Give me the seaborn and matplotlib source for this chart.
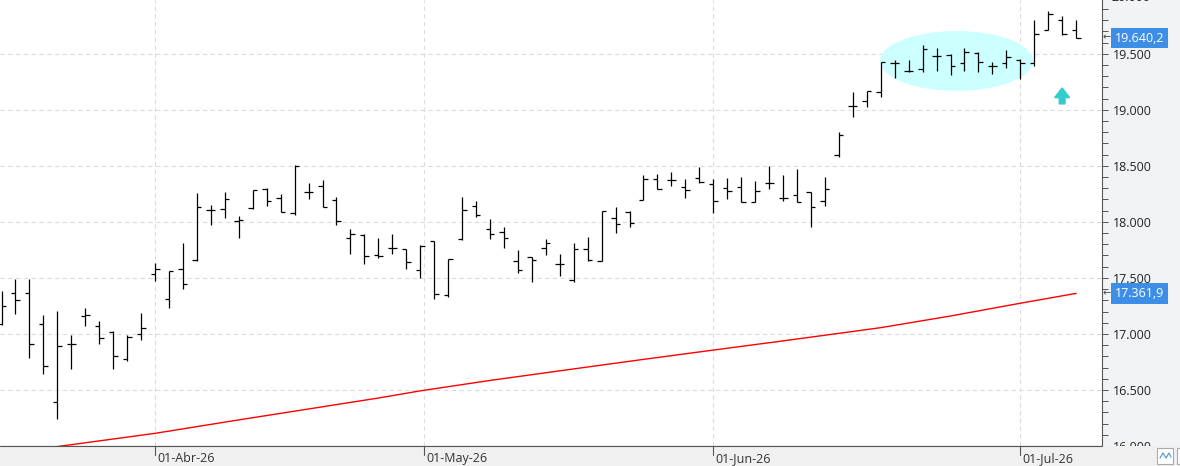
import numpy as np
import seaborn as sns
import matplotlib.pyplot as plt
import matplotlib.transforms as mtransforms
from matplotlib.patches import Ellipse, Rectangle
from matplotlib.lines import Line2D
from matplotlib.ticker import MultipleLocator, FuncFormatter

sns.set_style("white")
plt.rcParams['font.family'] = ['Open Sans', 'DejaVu Sans']

# OHLC diario (una barra por sesion)
opens = [17091, 17367, 17367, 17091, 16395, 16913, 17162, 17073, 17020, 16779,
         17002, 17537, 17314, 17581, 17662, 18107, 18116, 18009, 18125, 18295,
         18214, 18081, 18268, 18321, 18197, 17858, 17884, 17706, 17769, 17760,
         17572, 17831, 17350, 17849, 18143, 17938, 17911, 17653, 17688, 17769,
         17626, 17483, 17760, 17653, 18036, 18090, 18197, 18384, 18375, 18312,
         18393, 18339, 18304, 18312, 18179, 18348, 18214, 18241, 18268, 18188,
         18598, 19035, 19079, 19160, 19418, 19347, 19365, 19481, 19490, 19418,
         19507, 19391, 19418, 19445, 19418, 19712, 19802, 19712]
highs = [17385, 17492, 17492, 17171, 17207, 16993, 17234, 17118, 17028, 16993,
         17189, 17635, 17563, 17813, 18259, 18152, 18268, 18054, 18286, 18304,
         18250, 18509, 18348, 18375, 18223, 17938, 17893, 17858, 17893, 17760,
         17795, 17831, 17670, 18223, 18188, 18027, 17956, 17751, 17688, 17849,
         17715, 17813, 17867, 18098, 18134, 18098, 18419, 18428, 18446, 18384,
         18491, 18384, 18393, 18402, 18366, 18500, 18419, 18473, 18268, 18402,
         18803, 19160, 19169, 19427, 19445, 19445, 19579, 19552, 19498, 19552,
         19516, 19427, 19534, 19454, 19802, 19882, 19837, 19802]
lows = [17082, 17180, 16788, 16645, 16244, 16690, 17073, 16913, 16690, 16761,
        16948, 17474, 17234, 17403, 17653, 17974, 18036, 17858, 18116, 18143,
        18090, 18063, 18205, 18134, 17974, 17715, 17626, 17679, 17715, 17581,
        17501, 17314, 17332, 17840, 18045, 17849, 17769, 17546, 17465, 17706,
        17519, 17465, 17653, 17653, 17902, 17956, 18197, 18295, 18321, 18214,
        18348, 18081, 18205, 18179, 18179, 18295, 18188, 18179, 17956, 18143,
        18580, 18937, 19026, 19115, 19284, 19338, 19338, 19347, 19311, 19347,
        19338, 19320, 19374, 19276, 19391, 19712, 19668, 19640.2]
closes = [17251, 17305, 16913, 16716, 16895, 16913, 17171, 16966, 16805, 16975,
          17055, 17581, 17563, 17448, 18134, 18107, 18205, 18018, 18286, 18188,
          18090, 18500, 18268, 18134, 18009, 17893, 17697, 17697, 17769, 17644,
          17786, 17358, 17670, 18107, 18063, 17893, 17858, 17572, 17662, 17813,
          17626, 17760, 17662, 18098, 17983, 17991, 18384, 18295, 18375, 18286,
          18357, 18188, 18277, 18179, 18277, 18348, 18214, 18179, 18134, 18295,
          18776, 19035, 19169, 19427, 19418, 19347, 19543, 19481, 19391, 19516,
          19427, 19391, 19472, 19418, 19677, 19855, 19677, 19640.2]

sma_idx = [0, 4, 11, 17, 27, 30, 35, 41, 46, 51, 56, 63, 68, 73, 77]
sma_val = [15930, 15995, 16113, 16233, 16428, 16492, 16585, 16688, 16773,
           16856, 16938, 17056, 17160, 17274, 17361.9]

month_pos = [11.0, 30.3, 51.0, 73.0]
month_labels = ["01-Abr-26", "01-May-26", "01-Jun-26", "01-Jul-26"]

W, H = 1180, 466
fig = plt.figure(figsize=(W / 100, H / 100), dpi=100, facecolor='#f2f3f5')
ax = fig.add_axes([0, 20 / H, 1101.5 / W, 446 / H])
ax.set_facecolor('white')

x = np.arange(len(opens))
bar_kw = dict(color='black', lw=0.9, zorder=3)
ax.vlines(x, lows, highs, **bar_kw)
ax.hlines(opens, x - 0.32, x, **bar_kw)
ax.hlines(closes, x, x + 0.32, **bar_kw)

sns.lineplot(x=sma_idx, y=sma_val, color='red', lw=1.0, ax=ax, zorder=2)

# zona de consolidacion y flecha
ax.add_patch(Ellipse((68.43, 19436), width=10.96, height=535,
                     facecolor='#ccffff', edgecolor='none', zorder=1))
ax.arrow(76, 19053, 0, 142, width=0.41, head_width=1.07, head_length=86,
         length_includes_head=True, color='#33cccc', zorder=2)

ax.set_xlim(-0.11, 78.82)
ax.set_ylim(16000, 19980)
ax.set_xlabel('')
ax.set_ylabel('')
ax.set_xticks([])

grid_kw = dict(ls=(0, (4, 3)), color='#dcdcdc', lw=0.8, zorder=0)
for m in month_pos:
    ax.axvline(m, **grid_kw)
ax.yaxis.tick_right()
ax.yaxis.set_major_locator(MultipleLocator(500))
ax.yaxis.set_minor_locator(MultipleLocator(100))
ax.yaxis.set_major_formatter(FuncFormatter(lambda v, p: f"{v:,.0f}".replace(",", ".")))
ax.grid(axis='y', which='major', **grid_kw)
ax.tick_params(axis='y', which='both', direction='out', length=4, width=0.7,
               color='#555555', labelcolor='#222222', labelsize=9, pad=4)

for s in ['left', 'top']:
    ax.spines[s].set_visible(False)
for s in ['right', 'bottom']:
    ax.spines[s].set_color('#555555')
    ax.spines[s].set_linewidth(0.8)

yax = mtransforms.blended_transform_factory(ax.transAxes, ax.transData)
ax.annotate("20.000", xy=(1, 20000), xycoords=yax, xytext=(10, 0),
            textcoords='offset pixels', va='center', ha='left', fontsize=9,
            color='#222222', annotation_clip=False)

# etiquetas de ultimo valor
for val, txt in [(19640.2, "19.640,2"), (17361.9, "17.361,9")]:
    ax.annotate(txt, xy=(1, val), xycoords=yax, xytext=(13, 0),
                textcoords='offset pixels', va='center', ha='left', fontsize=9,
                color='white', annotation_clip=False, zorder=6,
                bbox=dict(boxstyle='square,pad=0.3', fc='#3d8ee6', ec='none'))
    ax.annotate("←", xy=(1, val), xycoords=yax, xytext=(1, 0),
                textcoords='offset pixels', va='center', ha='left', fontsize=7,
                color='#444444', annotation_clip=False, zorder=6)

# banda inferior con las fechas
fig.add_artist(Rectangle((0, 0), 1, 19.6 / H, transform=fig.transFigure,
                         facecolor='#f0f0f0', edgecolor='none', zorder=5))
fig.add_artist(Line2D([0, 1101.5 / W], [20 / H, 20 / H], transform=fig.transFigure,
                      color='#555555', lw=0.8, zorder=6))
xt = mtransforms.blended_transform_factory(ax.transData, fig.transFigure)
for m, lab in zip(month_pos, month_labels):
    fig.add_artist(Line2D([m, m], [11 / H, 20 / H], transform=xt,
                          color='#555555', lw=0.8, zorder=6))
    fig.text(m, 7.5 / H, lab, fontsize=9, color='#333333', va='center', ha='left',
             transform=mtransforms.offset_copy(xt, fig=fig, x=2, y=0, units='dots'),
             zorder=7)

# iconos de la esquina
fig.add_artist(Rectangle((1157 / W, 2 / H), 16 / W, 16 / H, transform=fig.transFigure,
                         facecolor='white', edgecolor='#aaaaaa', lw=0.8, zorder=6))
fig.add_artist(Line2D(np.array([1160, 1163, 1166, 1169, 1171]) / W,
                      np.array([8, 13, 8, 13, 9]) / H, transform=fig.transFigure,
                      color='#5b9bd5', lw=0.9, zorder=7))
fig.add_artist(Rectangle((1177 / W, 2 / H), 8 / W, 16 / H, transform=fig.transFigure,
                         facecolor='white', edgecolor='#aaaaaa', lw=0.8, zorder=6))

fig.savefig('out.png', dpi=100, facecolor=fig.get_facecolor())
